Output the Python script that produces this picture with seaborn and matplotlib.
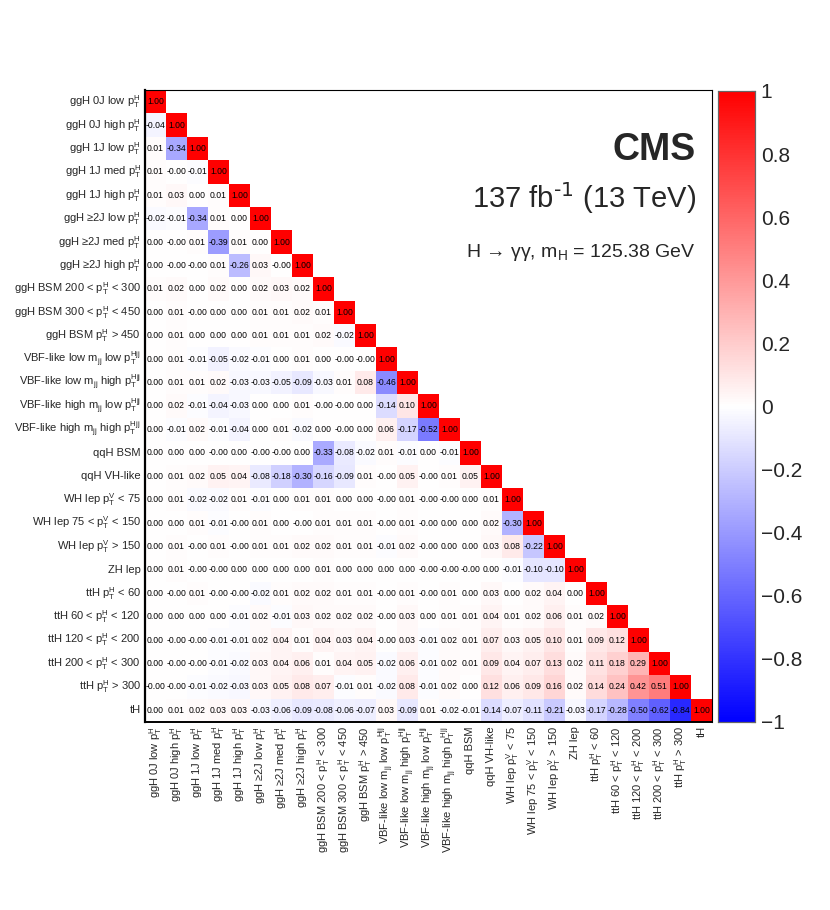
import numpy as np
import pandas as pd
import matplotlib
matplotlib.use("Agg")
import matplotlib.pyplot as plt
import seaborn as sns

# названия бинов STXS (строки сверху вниз = столбцы слева направо)
bins = [
    "ggH 0J low $p_{T}^{H}$",
    "ggH 0J high $p_{T}^{H}$",
    "ggH 1J low $p_{T}^{H}$",
    "ggH 1J med $p_{T}^{H}$",
    "ggH 1J high $p_{T}^{H}$",
    "ggH ≥2J low $p_{T}^{H}$",
    "ggH ≥2J med $p_{T}^{H}$",
    "ggH ≥2J high $p_{T}^{H}$",
    "ggH BSM 200 < $p_{T}^{H}$ < 300",
    "ggH BSM 300 < $p_{T}^{H}$ < 450",
    "ggH BSM $p_{T}^{H}$ > 450",
    "VBF-like low $m_{jj}$ low $p_{T}^{Hjj}$",
    "VBF-like low $m_{jj}$ high $p_{T}^{Hjj}$",
    "VBF-like high $m_{jj}$ low $p_{T}^{Hjj}$",
    "VBF-like high $m_{jj}$ high $p_{T}^{Hjj}$",
    "qqH BSM",
    "qqH VH-like",
    "WH lep $p_{T}^{V}$ < 75",
    "WH lep 75 < $p_{T}^{V}$ < 150",
    "WH lep $p_{T}^{V}$ > 150",
    "ZH lep",
    "ttH $p_{T}^{H}$ < 60",
    "ttH 60 < $p_{T}^{H}$ < 120",
    "ttH 120 < $p_{T}^{H}$ < 200",
    "ttH 200 < $p_{T}^{H}$ < 300",
    "ttH $p_{T}^{H}$ > 300",
    "tH",
]

# нижний треугольник корреляций, по строкам (-0.0 = "-0.00" на картинке)
lower_rows = [
    [1.00],
    [-0.04, 1.00],
    [0.01, -0.34, 1.00],
    [0.01, -0.0, -0.01, 1.00],
    [0.01, 0.03, 0.00, 0.01, 1.00],
    [-0.02, -0.01, -0.34, 0.01, 0.00, 1.00],
    [0.00, -0.0, 0.01, -0.39, 0.01, 0.00, 1.00],
    [0.00, -0.0, -0.0, 0.01, -0.26, 0.03, -0.0, 1.00],
    [0.01, 0.02, 0.00, 0.02, 0.00, 0.02, 0.03, 0.02, 1.00],
    [0.00, 0.01, -0.0, 0.00, 0.00, 0.01, 0.01, 0.02, 0.01, 1.00],
    [0.00, 0.01, 0.00, 0.00, 0.00, 0.01, 0.01, 0.01, 0.02, -0.02, 1.00],
    [0.00, 0.01, -0.01, -0.05, -0.02, -0.01, 0.00, 0.01, 0.00, -0.0, -0.0, 1.00],
    [0.00, 0.01, 0.01, 0.02, -0.03, -0.03, -0.05, -0.09, -0.03, 0.01, 0.08, -0.46, 1.00],
    [0.00, 0.02, -0.01, -0.04, -0.03, 0.00, 0.00, 0.01, -0.0, -0.0, 0.00, -0.14, 0.10, 1.00],
    [0.00, -0.01, 0.02, -0.01, -0.04, 0.00, 0.01, -0.02, 0.00, -0.0, 0.00, 0.06, -0.17, -0.52, 1.00],
    [0.00, 0.00, 0.00, -0.0, 0.00, -0.0, -0.0, 0.00, -0.33, -0.08, -0.02, 0.01, -0.01, 0.00, -0.01, 1.00],
    [0.00, 0.01, 0.02, 0.05, 0.04, -0.08, -0.18, -0.30, -0.16, -0.09, 0.01, -0.0, 0.05, -0.0, 0.01, 0.05, 1.00],
    [0.00, 0.01, -0.02, -0.02, 0.01, -0.01, 0.00, 0.01, 0.01, 0.00, 0.00, -0.0, 0.01, -0.0, -0.0, 0.00, 0.01, 1.00],
    [0.00, 0.00, 0.01, -0.01, -0.0, 0.01, 0.00, -0.0, 0.01, 0.01, 0.01, -0.0, 0.01, -0.0, 0.00, 0.00, 0.02, -0.30, 1.00],
    [0.00, 0.01, -0.0, 0.01, -0.0, 0.01, 0.01, 0.02, 0.02, 0.01, 0.01, -0.01, 0.02, -0.0, 0.00, 0.00, 0.03, 0.08, -0.22, 1.00],
    [0.00, 0.01, -0.0, -0.0, 0.00, 0.00, 0.00, 0.00, 0.01, 0.00, 0.00, 0.00, 0.00, -0.0, -0.0, -0.0, 0.00, -0.01, -0.10, -0.10, 1.00],
    [0.00, -0.0, 0.01, -0.0, -0.0, -0.02, 0.01, 0.02, 0.02, 0.01, 0.01, -0.0, 0.01, -0.0, 0.01, 0.00, 0.03, 0.00, 0.02, 0.04, 0.00, 1.00],
    [0.00, 0.00, 0.00, 0.00, -0.01, 0.02, -0.01, 0.03, 0.02, 0.02, 0.02, -0.0, 0.03, 0.00, 0.01, 0.01, 0.04, 0.01, 0.02, 0.06, 0.01, 0.02, 1.00],
    [0.00, -0.0, -0.0, -0.01, -0.01, 0.02, 0.04, 0.01, 0.04, 0.03, 0.04, -0.0, 0.03, -0.01, 0.02, 0.01, 0.07, 0.03, 0.05, 0.10, 0.01, 0.09, 0.12, 1.00],
    [0.00, -0.0, -0.0, -0.01, -0.02, 0.03, 0.04, 0.06, 0.01, 0.04, 0.05, -0.02, 0.06, -0.01, 0.02, 0.01, 0.09, 0.04, 0.07, 0.13, 0.02, 0.11, 0.18, 0.29, 1.00],
    [-0.0, -0.0, -0.01, -0.02, -0.03, 0.03, 0.05, 0.08, 0.07, -0.01, 0.01, -0.02, 0.08, -0.01, 0.02, 0.00, 0.12, 0.06, 0.09, 0.16, 0.02, 0.14, 0.24, 0.42, 0.51, 1.00],
    [0.00, 0.01, 0.02, 0.03, 0.03, -0.03, -0.06, -0.09, -0.08, -0.06, -0.07, 0.03, -0.09, 0.01, -0.02, -0.01, -0.14, -0.07, -0.11, -0.21, -0.03, -0.17, -0.28, -0.50, -0.62, -0.84, 1.00],
]

cbar_ticks = [-1, -0.8, -0.6, -0.4, -0.2, 0, 0.2, 0.4, 0.6, 0.8, 1]
cbar_labels = ['\u22121', '\u22120.8', '\u22120.6', '\u22120.4', '\u22120.2', '0',
               '0.2', '0.4', '0.6', '0.8', '1']

sns.set_style("white")
plt.rcParams['font.family'] = ['Liberation Sans', 'DejaVu Sans']
plt.rcParams['mathtext.default'] = 'regular'

# собираем полную матрицу из треугольника
n = len(bins)
mat = np.full((n, n), np.nan)
for i, row in enumerate(lower_rows):
    mat[i, :len(row)] = row
df = pd.DataFrame(mat, index=bins, columns=bins)
mask = np.triu(np.ones((n, n), dtype=bool), k=1)

fig = plt.figure(figsize=(8.3, 9.1), dpi=100)
ax = fig.add_axes([0.1747, 0.2066, 0.6831, 0.6945])
cax = fig.add_axes([0.865, 0.2066, 0.045, 0.6934])

sns.heatmap(df, mask=mask, cmap='bwr', vmin=-1, vmax=1, annot=True, fmt='.2f',
            annot_kws={'size': 6.2, 'color': 'black'}, ax=ax, cbar_ax=cax,
            cbar_kws={'ticks': cbar_ticks}, xticklabels=True, yticklabels=True)

ax.set_xticklabels(bins, rotation=90, fontsize=8)
ax.set_yticklabels(bins, rotation=0, fontsize=8)
ax.tick_params(length=0, pad=3)
for name, sp in ax.spines.items():
    sp.set_visible(True)
    sp.set_color('black')
    sp.set_linewidth(0.8)
ax.spines['left'].set_linewidth(1.6)
ax.spines['bottom'].set_linewidth(1.4)

cax.tick_params(labelsize=15, length=3, direction='in', right=True, pad=4)
cax.set_yticklabels(cbar_labels)
for sp in cax.spines.values():
    sp.set_visible(True)
    sp.set_color('0.4')
    sp.set_linewidth(0.8)

# подписи CMS
ax.text(0.972, 0.889, 'CMS', transform=ax.transAxes, ha='right', va='baseline',
        fontsize=27, fontweight='bold')
ax.text(0.972, 0.813, r'137 fb$^{\text{-1}}$ (13 TeV)', transform=ax.transAxes, ha='right',
        va='baseline', fontsize=21)
ax.text(0.972, 0.736, 'H \u2192 \u03b3\u03b3, $m_{H}$ = 125.38 GeV', transform=ax.transAxes,
        ha='right', va='baseline', fontsize=14)

fig.savefig('out.png', dpi=100)
